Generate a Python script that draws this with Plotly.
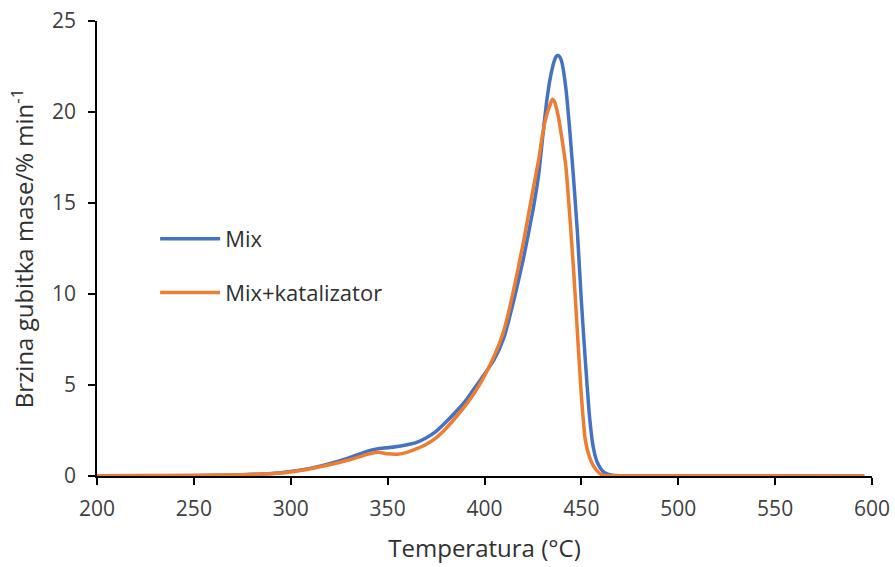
import plotly.graph_objects as go

temp_mix = [200, 250, 270, 280, 290, 300, 310, 320, 330, 340, 345, 350, 355, 360, 365, 370, 375, 380,
            385, 390, 395, 400, 405, 410, 415, 420, 425, 428, 430, 432, 434, 436, 437, 438, 439, 440,
            442, 444, 446, 448, 450, 452, 454, 456, 458, 460, 462, 464, 466, 470, 500, 550, 596]
rate_mix = [0.02, 0.03, 0.06, 0.09, 0.14, 0.25, 0.42, 0.68, 1.0, 1.38, 1.5, 1.55, 1.62, 1.72, 1.85, 2.1,
            2.45, 2.95, 3.5, 4.1, 4.85, 5.6, 6.4, 7.6, 9.6, 11.9, 14.6, 16.6, 18.6, 20.5, 21.9, 22.8,
            23.05, 23.1, 23.0, 22.7, 21.3, 19.0, 16.3, 13.3, 9.6, 6.4, 3.5, 1.66, 0.8, 0.4, 0.18, 0.08,
            0.04, 0.02, 0.01, 0.01, 0.0]

temp_kat = [200, 250, 270, 280, 290, 300, 310, 320, 330, 340, 345, 350, 355, 360, 365, 370, 375, 380,
            385, 390, 395, 400, 405, 410, 415, 420, 425, 428, 430, 432, 434, 435, 436, 438, 440, 442,
            444, 446, 448, 450, 452, 454, 456, 458, 460, 462, 470, 500, 550, 596]
rate_kat = [0.02, 0.03, 0.05, 0.08, 0.13, 0.22, 0.4, 0.62, 0.88, 1.2, 1.3, 1.22, 1.2, 1.3, 1.5, 1.75,
            2.1, 2.6, 3.2, 3.85, 4.6, 5.5, 6.6, 8.0, 10.2, 12.8, 15.7, 17.4, 18.8, 19.8, 20.45, 20.7,
            20.6, 19.8, 18.5, 17.0, 14.3, 11.3, 7.8, 4.4, 2.0, 1.1, 0.6, 0.3, 0.1, 0.03, 0.02, 0.01,
            0.01, 0.0]

names = ["Mix", "Mix+katalizator"]
x_ticks = [200, 250, 300, 350, 400, 450, 500, 550, 600]
y_ticks = [0, 5, 10, 15, 20, 25]

font = "Open Sans, Liberation Sans, sans-serif"

fig = go.Figure()
fig.add_trace(go.Scatter(x=temp_mix, y=rate_mix, mode="lines", name=names[0], legendgroup="a",
                         line=dict(color="#4472C4", width=3.5, shape="spline", smoothing=0.5)))
fig.add_trace(go.Scatter(x=temp_kat, y=rate_kat, mode="lines", name=names[1], legendgroup="b",
                         line=dict(color="#ED7D31", width=3.5, shape="spline", smoothing=0.5)))

fig.update_layout(
    width=895, height=567,
    margin=dict(l=97, r=23, t=21, b=91),
    paper_bgcolor="white", plot_bgcolor="white",
    font=dict(family=font, size=21, color="#404040"),
    showlegend=True,
    legend=dict(x=0.075, y=0.567, xanchor="left", yanchor="top", bgcolor="rgba(0,0,0,0)",
                itemwidth=60, tracegroupgap=22, font=dict(size=22, color="#303030")),
    xaxis=dict(range=[200, 600], tickvals=x_ticks, showline=True, linecolor="black", linewidth=1.5,
               ticks="outside", ticklen=7, tickcolor="black", tickwidth=1.5, showgrid=False,
               zeroline=False, automargin=False, ticklabelstandoff=6,
               title=dict(text="Temperatura (°C)", font=dict(size=24, color="#303030"), standoff=19)),
    yaxis=dict(range=[0, 25], tickvals=y_ticks, showline=True, linecolor="black", linewidth=1.5,
               ticks="outside", ticklen=7, tickcolor="black", tickwidth=1.5, showgrid=False,
               zeroline=False, automargin=False, ticklabelstandoff=8,
               title=dict(text="Brzina gubitka mase/% min<sup>-1</sup>", font=dict(size=24, color="#303030"),
                          standoff=12)),
)

fig.write_html("out.html", config={"displayModeBar": False},
               post_script="document.body.style.margin='0';document.body.style.overflow='hidden';")
